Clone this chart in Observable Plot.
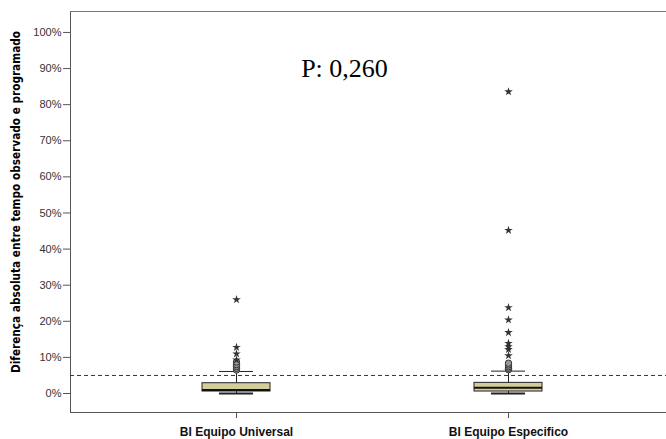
<!DOCTYPE html>
<html><head><meta charset="utf-8">
<script src="https://cdn.jsdelivr.net/npm/d3@7"></script>
<script src="https://cdn.jsdelivr.net/npm/@observablehq/plot@0.6"></script>
<style>body{margin:0;background:#fff}</style>
</head><body><div id="chart"></div>
<script>
const categories = ["BI Equipo Universal", "BI Equipo Especifico"];
const q1 = [0.55, 0.55];
const medians = [1.0, 1.6];
const q3 = [2.85, 2.95];
const whiskerLow = [0, 0];
const whiskerHigh = [6.1, 6.2];
const circleOutliers = [[6.5, 7.0, 7.5, 8.0, 8.7], [6.6, 7.0, 7.4, 7.9, 8.4]];
const starOutliers = [[9.3, 11.0, 12.8, 26.0], [10.5, 12.2, 13.0, 13.9, 16.9, 20.4, 23.8, 45.2, 83.6]];
const yTicks = [0,10,20,30,40,50,60,70,80,90,100];
const referenceLine = 5;
const pLabel = "P: 0,260";
const yLabel = "Diferença absoluta entre tempo observado e programado";

const boxes = categories.map((c,i)=>({cat:c, q1:q1[i], med:medians[i], q3:q3[i], lo:whiskerLow[i], hi:whiskerHigh[i]}));
const circles = categories.flatMap((c,i)=>circleOutliers[i].map(v=>({cat:c, v})));
const stars = categories.flatMap((c,i)=>starOutliers[i].map(v=>({cat:c, v})));

const chart = Plot.plot({
  width: 666, height: 439,
  marginLeft: 70, marginRight: 0, marginTop: 11, marginBottom: 27,
  style: {fontFamily: "'Liberation Sans', Arial, sans-serif", background: "#fff"},
  x: {type: "band", domain: categories, range: [202, 542], paddingInner: 0.75, paddingOuter: 0, label: null},
  y: {domain: [-5.26, 105.8], label: null},
  marks: [
    Plot.frame({anchor: "left", stroke: "#555"}),
    Plot.frame({anchor: "top", stroke: "#777"}),
    Plot.frame({anchor: "bottom", stroke: "#555"}),
    Plot.axisY({ticks: yTicks, tickFormat: d => d + "%", tickSize: 7, tickPadding: 2, fontSize: 11, fill: "#333", stroke: "#555", label: null}),
    Plot.axisX({tickSize: 6, tickPadding: 9, fontSize: 12, fontWeight: "bold", fill: "#111", stroke: "#555", label: null}),
    Plot.ruleY([referenceLine], {stroke: "#333", strokeDasharray: "4,3", strokeWidth: 1}),
    Plot.ruleX(boxes, {x: "cat", y1: "q3", y2: "hi", stroke: "#222"}),
    Plot.ruleX(boxes, {x: "cat", y1: "lo", y2: "q1", stroke: "#222"}),
    Plot.tickY(boxes, {x: "cat", y: "hi", stroke: "#222", insetLeft: 17, insetRight: 17}),
    Plot.tickY(boxes, {x: "cat", y: "lo", stroke: "#222", strokeWidth: 2, insetLeft: 17, insetRight: 17}),
    Plot.barY(boxes, {x: "cat", y1: "q1", y2: "q3", fill: "#d3ce97", stroke: "#222", strokeWidth: 1}),
    Plot.tickY(boxes, {x: "cat", y: "med", stroke: "#111", strokeWidth: 2}),
    Plot.dot(circles, {x: "cat", y: "v", r: 3.2, fill: "#999", stroke: "#333", strokeWidth: 1}),
    Plot.dot(stars, {x: "cat", y: "v", symbol: "star", r: 2.7, fill: "#333", stroke: "none"}),
    Plot.text([pLabel], {frameAnchor: "top", dx: -24, dy: 65, lineAnchor: "bottom", fontSize: 26, fontFamily: "'Liberation Serif', 'Times New Roman', serif", fill: "#000", text: d => d}),
    Plot.text([yLabel], {frameAnchor: "left", textAnchor: "middle", dx: -54, dy: -10, rotate: -90, fontSize: 11.7, fontWeight: "bold", fontFamily: "'Liberation Sans Narrow', 'DejaVu Sans Condensed', sans-serif", fill: "#000", text: d => d})
  ]
});
document.getElementById("chart").append(chart);
</script>
</body></html>
